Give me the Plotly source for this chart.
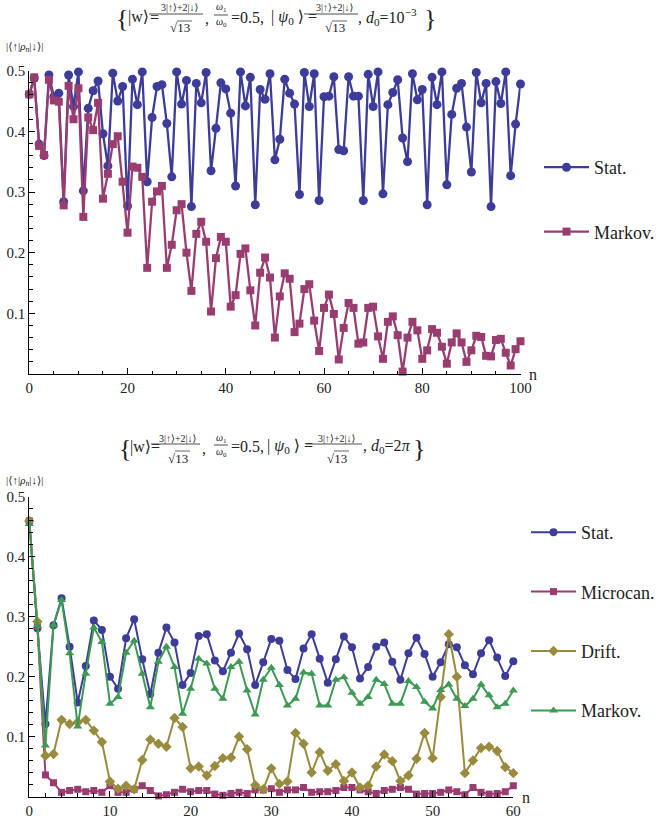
import plotly.graph_objects as go

# ---------------- data ----------------
n_top = list(range(0, 101))
stat_top = [0.461, 0.488, 0.379, 0.360, 0.493, 0.457, 0.463, 0.284, 0.493, 0.441,
            0.498, 0.302, 0.438, 0.467, 0.483, 0.396, 0.343, 0.496, 0.450, 0.474,
            0.277, 0.486, 0.444, 0.498, 0.317, 0.423, 0.474, 0.477, 0.413, 0.325,
            0.498, 0.445, 0.484, 0.276, 0.479, 0.447, 0.497, 0.335, 0.405, 0.480,
            0.470, 0.430, 0.310, 0.498, 0.442, 0.489, 0.279, 0.469, 0.453, 0.495,
            0.353, 0.387, 0.486, 0.463, 0.445, 0.296, 0.497, 0.441, 0.495, 0.286,
            0.457, 0.458, 0.490, 0.370, 0.368, 0.490, 0.458, 0.458, 0.286, 0.494,
            0.441, 0.498, 0.297, 0.444, 0.464, 0.485, 0.389, 0.350, 0.495, 0.452,
            0.469, 0.279, 0.489, 0.444, 0.498, 0.312, 0.428, 0.471, 0.479, 0.407,
            0.333, 0.497, 0.447, 0.479, 0.276, 0.482, 0.446, 0.498, 0.327, 0.412,
            0.478]
markov_top = [0.461, 0.489, 0.376, 0.361, 0.485, 0.451, 0.449, 0.278, 0.475, 0.420,
              0.471, 0.259, 0.423, 0.402, 0.447, 0.289, 0.330, 0.379, 0.392, 0.317,
              0.233, 0.342, 0.340, 0.325, 0.175, 0.284, 0.301, 0.310, 0.175, 0.213,
              0.270, 0.280, 0.200, 0.137, 0.231, 0.251, 0.218, 0.103, 0.191, 0.226,
              0.218, 0.111, 0.130, 0.198, 0.207, 0.138, 0.080, 0.167, 0.192, 0.159,
              0.060, 0.128, 0.166, 0.157, 0.069, 0.083, 0.140, 0.148, 0.088, 0.038,
              0.109, 0.131, 0.099, 0.024, 0.076, 0.117, 0.109, 0.050, 0.052, 0.109,
              0.111, 0.062, 0.025, 0.086, 0.095, 0.064, 0.004, 0.060, 0.086, 0.072,
              0.025, 0.039, 0.074, 0.068, 0.045, 0.017, 0.052, 0.067, 0.052, 0.020,
              0.039, 0.063, 0.061, 0.030, 0.029, 0.056, 0.058, 0.035, 0.014, 0.041,
              0.054]

n_bot = list(range(0, 61))
stat_bot = [0.460, 0.281, 0.121, 0.286, 0.331, 0.250, 0.157, 0.218, 0.294, 0.278,
            0.200, 0.180, 0.264, 0.296, 0.229, 0.171, 0.240, 0.282, 0.257, 0.186,
            0.206, 0.268, 0.271, 0.227, 0.209, 0.240, 0.272, 0.246, 0.186, 0.224,
            0.263, 0.260, 0.211, 0.196, 0.247, 0.271, 0.230, 0.190, 0.229, 0.267,
            0.249, 0.197, 0.216, 0.250, 0.257, 0.225, 0.195, 0.239, 0.265, 0.238,
            0.200, 0.224, 0.254, 0.249, 0.219, 0.204, 0.239, 0.261, 0.232, 0.201,
            0.226]
microcan_bot = [0.460, 0.285, 0.036, 0.023, 0.007, 0.010, 0.012, 0.008, 0.010, 0.007,
                0.018, 0.007, 0.007, 0.012, 0.018, 0.010, 0.001, 0.003, 0.007, 0.012,
                0.008, 0.010, 0.010, 0.004, 0.002, 0.005, 0.007, 0.005, 0.011, 0.011,
                0.013, 0.007, 0.011, 0.011, 0.015, 0.007, 0.008, 0.008, 0.010, 0.015,
                0.015, 0.011, 0.008, 0.005, 0.010, 0.012, 0.015, 0.012, 0.004, 0.005,
                0.005, 0.007, 0.011, 0.008, 0.003, 0.015, 0.007, 0.004, 0.005, 0.008,
                0.018]
drift_bot = [0.460, 0.292, 0.068, 0.071, 0.128, 0.121, 0.124, 0.128, 0.110, 0.091,
             0.025, 0.013, 0.018, 0.012, 0.061, 0.095, 0.088, 0.083, 0.131, 0.116,
             0.047, 0.050, 0.035, 0.051, 0.064, 0.065, 0.100, 0.079, 0.019, 0.012,
             0.047, 0.021, 0.025, 0.106, 0.088, 0.040, 0.074, 0.043, 0.054, 0.026,
             0.040, 0.015, 0.018, 0.050, 0.070, 0.059, 0.026, 0.035, 0.063, 0.106,
             0.064, 0.166, 0.271, 0.200, 0.039, 0.060, 0.081, 0.083, 0.076, 0.049,
             0.039]
markov_bot = [0.455, 0.285, 0.085, 0.286, 0.328, 0.239, 0.117, 0.205, 0.282, 0.258,
              0.155, 0.166, 0.240, 0.260, 0.205, 0.149, 0.225, 0.250, 0.216, 0.138,
              0.180, 0.230, 0.222, 0.180, 0.163, 0.216, 0.225, 0.177, 0.137, 0.195,
              0.215, 0.186, 0.152, 0.163, 0.207, 0.205, 0.152, 0.152, 0.195, 0.199,
              0.173, 0.155, 0.166, 0.195, 0.188, 0.155, 0.155, 0.193, 0.183, 0.158,
              0.147, 0.178, 0.187, 0.163, 0.151, 0.163, 0.187, 0.169, 0.149, 0.155,
              0.177]

y_ticks = [0.1, 0.2, 0.3, 0.4, 0.5]
y_ticklabels = ["0.1", "0.2", "0.3", "0.4", "0.5"]

BLUE = "#3d3d99"
PURPLE = "#993d71"
OLIVE = "#998b3d"
GREEN = "#3d9954"
SERIF = "Liberation Serif, DejaVu Serif, serif"

W, H = 659, 819


def px(x):
    return x / W


def py(y):
    return 1 - y / H


fig = go.Figure()

# top panel
fig.add_trace(go.Scatter(x=n_top, y=stat_top, name="Stat.", mode="lines+markers",
                         line=dict(color=BLUE, width=2.3),
                         marker=dict(symbol="circle", size=9, color=BLUE),
                         xaxis="x", yaxis="y", legend="legend", legendgroup="t1",
                         cliponaxis=False))
fig.add_trace(go.Scatter(x=n_top, y=markov_top, name="Markov.", mode="lines+markers",
                         line=dict(color=PURPLE, width=2.3),
                         marker=dict(symbol="square", size=8, color=PURPLE),
                         xaxis="x", yaxis="y", legend="legend", legendgroup="t2",
                         cliponaxis=False))

# bottom panel
bot_series = [("Stat.", stat_bot, BLUE, "circle", 8),
              ("Microcan.", microcan_bot, PURPLE, "square", 7),
              ("Drift.", drift_bot, OLIVE, "diamond", 8),
              ("Markov.", markov_bot, GREEN, "triangle-up", 8)]
for i, (nm, vals, col, sym, sz) in enumerate(bot_series):
    fig.add_trace(go.Scatter(x=n_bot, y=vals, name=nm, mode="lines+markers",
                             line=dict(color=col, width=2),
                             marker=dict(symbol=sym, size=sz, color=col),
                             xaxis="x2", yaxis="y2", legend="legend2",
                             legendgroup="b%d" % i, cliponaxis=False))

axis_common = dict(showgrid=False, zeroline=False, showline=True, linecolor="black",
                   linewidth=1, ticks="inside", ticklen=6, tickwidth=1, tickcolor="black",
                   automargin=False,
                   tickfont=dict(family=SERIF, size=15, color="#222"))

fig.update_layout(
    width=W, height=H, margin=dict(l=0, r=0, t=0, b=0, autoexpand=False),
    paper_bgcolor="white", plot_bgcolor="white",
    font=dict(family=SERIF, color="#222"),
    xaxis=dict(domain=[px(29.3), px(520.5)], range=[0, 100], anchor="y",
               tickvals=[0, 20, 40, 60, 80, 100],
               minor=dict(dtick=5, tick0=0, ticks="inside", ticklen=3.5, tickcolor="black"),
               **axis_common),
    yaxis=dict(domain=[py(374), py(70.7)], range=[0, 0.5], anchor="x",
               tickvals=y_ticks, ticktext=y_ticklabels,
               minor=dict(dtick=0.02, tick0=0, ticks="inside", ticklen=3.5, tickcolor="black"),
               **axis_common),
    xaxis2=dict(domain=[px(29.3), px(513.3)], range=[0, 60], anchor="y2",
                tickvals=[0, 10, 20, 30, 40, 50, 60],
                minor=dict(dtick=2, tick0=0, ticks="inside", ticklen=3.5, tickcolor="black"),
                **axis_common),
    yaxis2=dict(domain=[py(796.5), py(497)], range=[0, 0.5], anchor="x2",
                tickvals=y_ticks, ticktext=y_ticklabels,
                minor=dict(dtick=0.02, tick0=0, ticks="inside", ticklen=3.5, tickcolor="black"),
                **axis_common),
    legend=dict(x=px(539), y=py(149), xanchor="left", yanchor="top",
                tracegroupgap=38, itemwidth=45, bgcolor="rgba(0,0,0,0)",
                font=dict(family=SERIF, size=18, color="#222")),
    legend2=dict(x=px(526), y=py(514), xanchor="left", yanchor="top",
                 tracegroupgap=33, itemwidth=45, bgcolor="rgba(0,0,0,0)",
                 font=dict(family=SERIF, size=18, color="#222")),
    showlegend=True,
)

annotations = []
shapes = []


def txt(x, y, text, size=16, xanchor="left"):
    annotations.append(dict(x=px(x), y=py(y), xref="paper", yref="paper", text=text,
                            showarrow=False, xanchor=xanchor, yanchor="middle",
                            font=dict(family=SERIF, size=size, color="#222")))


def hline(x0, x1, y, w=0.8):
    shapes.append(dict(type="line", xref="paper", yref="paper", x0=px(x0), x1=px(x1),
                       y0=py(y), y1=py(y), line=dict(color="#222", width=w)))


NUM = "3|↑⟩+2|↓⟩"


def title(dy, p, tail):
    txt(p["bl"], 18 + dy, "{", size=26)
    txt(p["w"], 17 + dy, "|w⟩")
    txt(p["eq"], 17 + dy, "=")
    txt(p["n1"], 8 + dy, NUM, size=10, xanchor="center")
    hline(p["b1"][0], p["b1"][1], 14 + dy)
    txt(p["n1"], 28 + dy, "√13", size=13, xanchor="center")
    hline(p["n1"] - 3, p["n1"] + 12, 21 + dy, 0.7)
    txt(p["c1"], 18 + dy, ",")
    txt(p["om"], 8 + dy, "<i>ω</i><sub>1</sub>", size=10, xanchor="center")
    hline(p["om"] - 7, p["om"] + 7, 15 + dy)
    txt(p["om"], 22 + dy, "<i>ω</i><sub>0</sub>", size=10, xanchor="center")
    txt(p["e5"], 17 + dy, "=0.5,")
    txt(p["psi"], 17 + dy, "| <i>ψ</i><sub>0</sub> ⟩ =")
    txt(p["n2"], 8 + dy, NUM, size=10, xanchor="center")
    hline(p["b2"][0], p["b2"][1], 14 + dy)
    txt(p["n2"], 28 + dy, "√13", size=13, xanchor="center")
    hline(p["n2"] - 3, p["n2"] + 12, 21 + dy, 0.7)
    txt(p["tail"], 17 + dy, tail)
    txt(p["br"], 18 + dy, "}", size=26)


title(0, dict(bl=114, w=126, eq=148, n1=180, b1=(149, 203), c1=203, om=221, e5=229,
              psi=269, n2=335, b2=(304, 358), tail=356, br=422),
      ", <i>d</i><sub>0</sub>=10<sup>−3</sup>")
title(430, dict(bl=117, w=128, eq=149, n1=178, b1=(151, 200), c1=200, om=221, e5=229,
                psi=265, n2=337, b2=(306, 362), tail=361, br=411),
      ", <i>d</i><sub>0</sub>=2<i>π</i>")

# y-axis labels and n labels
txt(4, 47, "|⟨↑|<i>ρ<sub>n</sub></i>|↓⟩|", size=11)
txt(4, 481, "|⟨↑|<i>ρ<sub>n</sub></i>|↓⟩|", size=11)
txt(527, 375, "n", size=16)
txt(520, 797, "n", size=16)

fig.update_layout(annotations=annotations, shapes=shapes)
fig.write_html("out.html",
               config={"displayModeBar": False},
               post_script="document.body.style.margin='0';document.body.style.overflow='hidden';")
